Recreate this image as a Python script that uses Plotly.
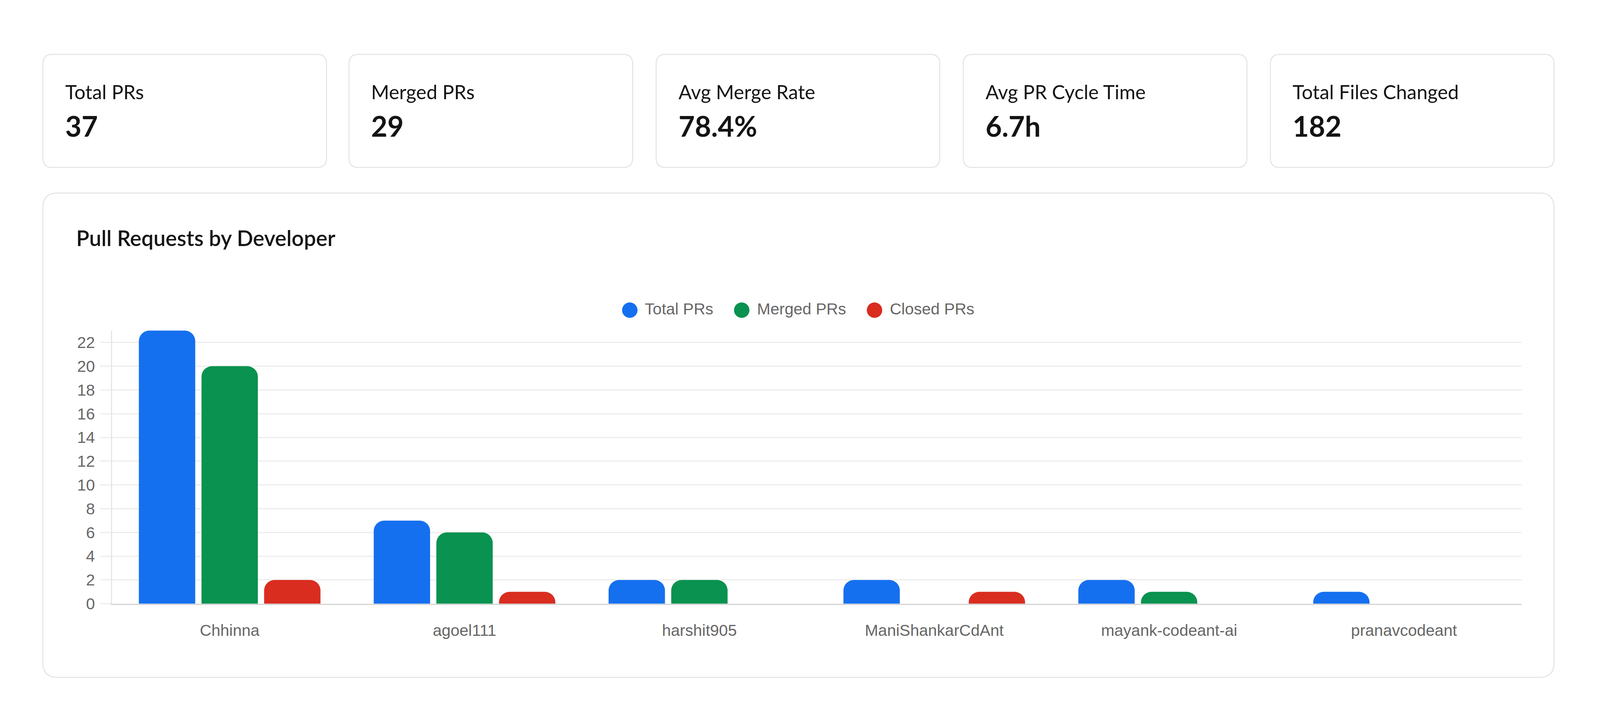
import plotly.graph_objects as go

# The page is photographed in a 4096x1864 viewport; the layout below is
# measured on a 1568x674 scale copy of the reference and mapped proportionally.
W, H = 4096, 1864
RW, RH = 1568.0, 674.1

# ---- data ----
developers = ["Chhinna", "agoel111", "harshit905", "ManiShankarCdAnt",
              "mayank-codeant-ai", "pranavcodeant"]
total_prs = [23, 7, 2, 2, 2, 1]
merged_prs = [20, 6, 2, 0, 1, 0]
closed_prs = [2, 1, 0, 1, 0, 0]
series_names = ["Total PRs", "Merged PRs", "Closed PRs"]
series_colors = ["#1570ef", "#099250", "#d92d20"]

kpi_labels = ["Total PRs", "Merged PRs", "Avg Merge Rate", "Avg PR Cycle Time", "Total Files Changed"]
kpi_values = ["37", "29", "78.4%", "6.7h", "182"]

chart_title = "Pull Requests by Developer"


def px(x):
    return x / RW


def py(y):
    return 1 - y / RH


def rounded(x0, y0, x1, y1, r):
    X0, X1 = px(x0), px(x1)
    YT, YB = py(y0), py(y1)
    rx, ry = r / RW, r / RH
    return (f"M{X0+rx},{YT} L{X1-rx},{YT} Q{X1},{YT} {X1},{YT-ry} "
            f"L{X1},{YB+ry} Q{X1},{YB} {X1-rx},{YB} L{X0+rx},{YB} "
            f"Q{X0},{YB} {X0},{YB+ry} L{X0},{YT-ry} Q{X0},{YT} {X0+rx},{YT} Z")


fig = go.Figure()

for name, vals, col in zip(series_names, [total_prs, merged_prs, closed_prs], series_colors):
    fig.add_trace(go.Bar(
        x=developers, y=vals, name=name,
        marker=dict(color=col, cornerradius=27, line=dict(width=0)),
        showlegend=False, hoverinfo="skip"))

# legend entries with round swatches
for name, col in zip(series_names, series_colors):
    fig.add_trace(go.Scatter(
        x=[None], y=[None], mode="markers", marker=dict(color="rgba(0,0,0,0)", size=1),
        name=f'<span style="color:{col};font-size:92px;baseline-shift:-15px">●</span> {name}',
        showlegend=True, hoverinfo="skip"))

shapes = []
annotations = []
card_x = [(42, 320), (342, 620), (643, 921), (944, 1222), (1245, 1523)]
for (x0, x1), lab, val in zip(card_x, kpi_labels, kpi_values):
    shapes.append(dict(type="path", path=rounded(x0, 51, x1, 157, 9), xref="paper", yref="paper",
                       line=dict(color="#e3e3e3", width=2.5), fillcolor="rgba(255,255,255,0)",
                       layer="below"))
    annotations.append(dict(text=lab, x=px(x0 + 21), y=py(86), xref="paper", yref="paper",
                            xanchor="left", yanchor="middle", showarrow=False,
                            font=dict(family="Lato", size=50, color="#141414")))
    annotations.append(dict(text=f"<b>{val}</b>", x=px(x0 + 21), y=py(118), xref="paper",
                            yref="paper", xanchor="left", yanchor="middle", showarrow=False,
                            font=dict(family="Lato", size=72, color="#141414")))

shapes.append(dict(type="path", path=rounded(42, 181, 1523, 635, 14), xref="paper", yref="paper",
                   line=dict(color="#e3e3e3", width=2.5), fillcolor="rgba(255,255,255,0)",
                   layer="below"))
annotations.append(dict(text=chart_title, x=px(74), y=py(223), xref="paper", yref="paper",
                        xanchor="left", yanchor="middle", showarrow=False,
                        font=dict(family="Lato", size=55, color="#141414", weight=600)))

tick_font = dict(family="Liberation Sans, Arial, sans-serif", size=41, color="#666666")

fig.update_layout(
    width=W, height=H,
    margin=dict(l=0, r=0, t=0, b=0),
    paper_bgcolor="white", plot_bgcolor="rgba(0,0,0,0)",
    barmode="group", bargap=0.2, bargroupgap=0.1,
    shapes=shapes, annotations=annotations,
    showlegend=True,
    legend=dict(orientation="h", x=px(774), xanchor="center", y=py(289), yanchor="middle",
                font=tick_font, itemwidth=30, bgcolor="rgba(0,0,0,0)",
                itemclick=False, itemdoubleclick=False),
    xaxis=dict(domain=[px(110), px(1491)], showgrid=False, zeroline=False,
               showline=True, linecolor="#d4d4d4", linewidth=3, ticks="",
               tickfont=tick_font, ticklabelstandoff=30, fixedrange=True),
    yaxis=dict(domain=[py(566), py(309.9)], range=[0, 23], tick0=0, dtick=2,
               showgrid=True, gridcolor="#ededed", gridwidth=2.5, zeroline=False,
               showline=True, linecolor="#e6e6e6", linewidth=3,
               ticks="outside", ticklen=28, tickwidth=2.5, tickcolor="#ededed",
               tickfont=tick_font, ticklabelstandoff=5, fixedrange=True),
    hovermode=False,
)

post = "document.body.style.margin='0';document.body.style.overflow='hidden';"
fig.write_html("out.html", config={"displayModeBar": False}, post_script=post)
